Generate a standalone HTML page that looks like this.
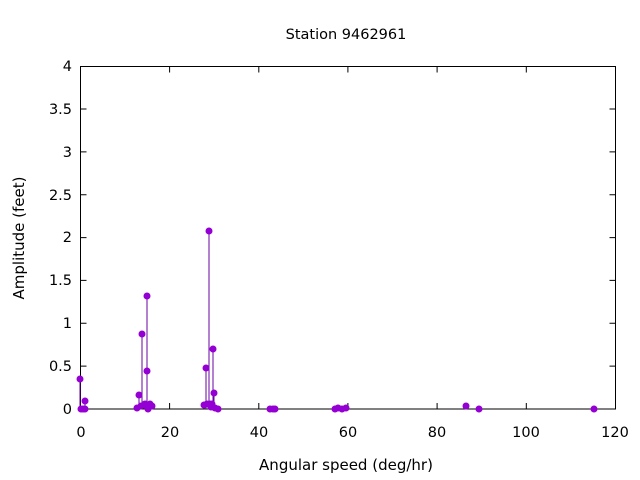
<!DOCTYPE html>
<html><head><style>body{margin:0;background:#fff}svg{display:block;font-family:"DejaVu Sans","Liberation Sans",sans-serif}</style></head><body>
<svg width="640" height="480" xmlns="http://www.w3.org/2000/svg">
<rect width="640" height="480" fill="#fff"/>
<text x="346" y="39" font-size="14.5" text-anchor="middle">Station 9462961</text>
<g stroke="#000" stroke-width="1" fill="none">
<rect x="80.5" y="66.5" width="535" height="342.5"/>
<path d="M80.5 409h6M80.5 366.1h6M80.5 323.3h6M80.5 280.4h6M80.5 237.6h6M80.5 194.7h6M80.5 151.9h6M80.5 109h6M80.5 66.5h6M615.5 409h-6M615.5 366.1h-6M615.5 323.3h-6M615.5 280.4h-6M615.5 237.6h-6M615.5 194.7h-6M615.5 151.9h-6M615.5 109h-6M615.5 66.5h-6M80.5 409v-6M169.6 409v-6M258.8 409v-6M347.9 409v-6M437.1 409v-6M526.3 409v-6M615.5 409v-6M80.5 66.5v6M169.6 66.5v6M258.8 66.5v6M347.9 66.5v6M437.1 66.5v6M526.3 66.5v6"/>
</g>
<g font-size="14.5" text-anchor="end">
<text x="72" y="414">0</text><text x="72" y="371">0.5</text><text x="72" y="328">1</text><text x="72" y="285">1.5</text><text x="72" y="242">2</text><text x="72" y="200">2.5</text><text x="72" y="157">3</text><text x="72" y="114">3.5</text><text x="72" y="71">4</text>
</g>
<g font-size="14.5" text-anchor="middle">
<text x="81" y="437">0</text><text x="170" y="437">20</text><text x="259" y="437">40</text><text x="348" y="437">60</text><text x="437" y="437">80</text><text x="526" y="437">100</text><text x="615" y="437">120</text>
</g>
<g font-size="15" text-anchor="middle">
<text x="346" y="470">Angular speed (deg/hr)</text>
<text transform="translate(24 238) rotate(-90)">Amplitude (feet)</text>
</g>
<g stroke="#6a00a0" stroke-width="1">
<path d="M80 409V379M85 409V401M139 409V395M142 409V334M147 409V296M206 409V368M209 409V231M213 409V349M214 409V393"/>
</g>
<g fill="#9400d3">
<circle cx="80" cy="379" r="3.5"/><circle cx="81" cy="409" r="3.5"/><circle cx="83" cy="409" r="3.5"/><circle cx="85" cy="401" r="3.5"/><circle cx="85" cy="409" r="3.5"/>
<circle cx="137" cy="408" r="3.5"/><circle cx="139" cy="395" r="3.5"/><circle cx="142" cy="334" r="3.5"/><circle cx="141" cy="406" r="3.5"/><circle cx="147" cy="296" r="3.5"/><circle cx="147" cy="371" r="3.5"/><circle cx="147" cy="405" r="3.5"/><circle cx="148" cy="409" r="3.5"/><circle cx="150" cy="404" r="3.5"/><circle cx="152" cy="406" r="3.5"/><circle cx="144" cy="405" r="3.5"/><circle cx="145" cy="404" r="3.5"/>
<circle cx="204" cy="405" r="3.5"/><circle cx="206" cy="368" r="3.5"/><circle cx="207" cy="404" r="3.5"/><circle cx="209" cy="231" r="3.5"/><circle cx="210" cy="404" r="3.5"/><circle cx="213" cy="349" r="3.5"/><circle cx="214" cy="393" r="3.5"/><circle cx="211" cy="407" r="3.5"/><circle cx="215" cy="408" r="3.5"/><circle cx="218" cy="409" r="3.5"/><circle cx="212" cy="404" r="3.5"/>
<circle cx="270" cy="409" r="3.5"/><circle cx="273" cy="409" r="3.5"/><circle cx="275" cy="409" r="3.5"/><circle cx="335" cy="409" r="3.5"/><circle cx="338" cy="408" r="3.5"/><circle cx="342" cy="409" r="3.5"/><circle cx="346" cy="408" r="3.5"/><circle cx="466" cy="406" r="3.5"/><circle cx="479" cy="409" r="3.5"/><circle cx="594" cy="409" r="3.5"/>
</g>
</svg>
</body></html>
